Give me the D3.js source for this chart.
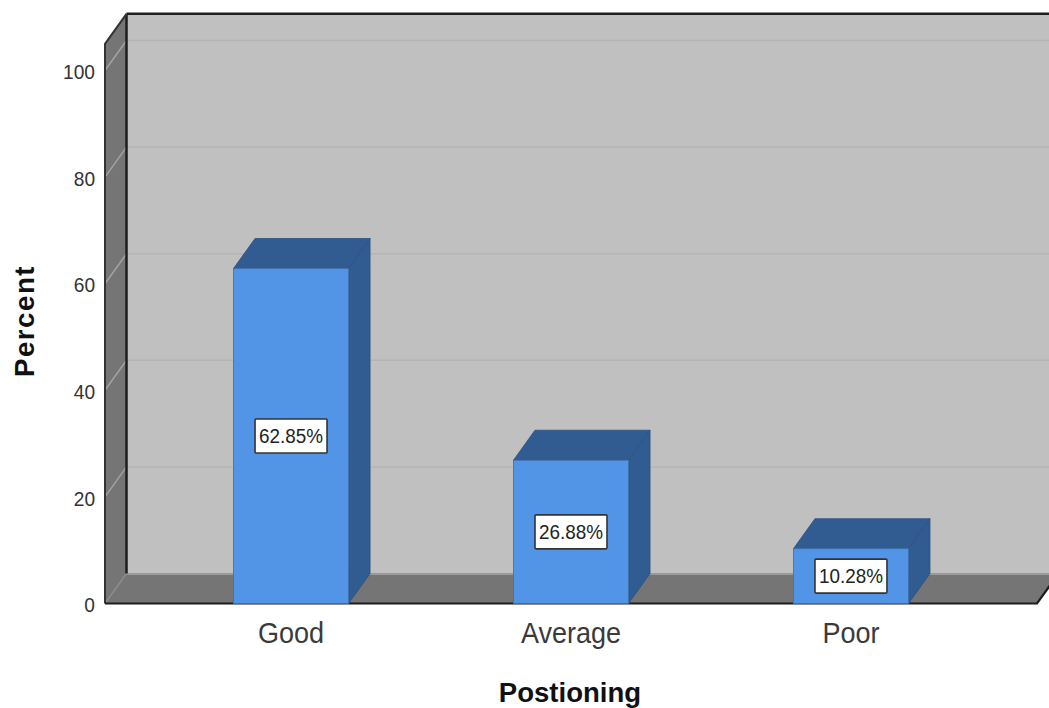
<!DOCTYPE html>
<html>
<head>
<meta charset="utf-8">
<script src="https://cdnjs.cloudflare.com/ajax/libs/d3/7.8.5/d3.min.js"></script>
<style>
html,body{margin:0;padding:0;background:#fff;overflow:hidden}
svg{display:block}
text{font-family:"Liberation Sans",Arial,sans-serif}
</style>
</head>
<body>
<svg id="chart" width="1049" height="708"></svg>
<script>
// Percent of respondents per positioning rating
const categories = ["Good", "Average", "Poor"];
const percents = [62.85, 26.88, 10.28];
const percentLabels = ["62.85%", "26.88%", "10.28%"];
const yTicks = [0, 20, 40, 60, 80, 100];
const yTop = 105;
const xTitle = "Postioning";
const yTitle = "Percent";

const W = 1049, H = 708;
const left = 105, right = 1037, base = 603.5, unit100 = 70.5;
const depthX = 21.5, depthY = -30;      // oblique offset of the 3D box

const x = d3.scaleBand().domain(categories).range([left, right]).paddingInner(0.589).paddingOuter(0.459);
const y = d3.scaleLinear().domain([0, 100]).range([base, unit100]);
const svg = d3.select("#chart");
const poly = pts => pts.map(p => p.join(",")).join(" ");

// Narrow a text horizontally while keeping its height
const condense = (sel, k) => sel.each(function () {
  this.setAttribute("textLength", this.getComputedTextLength() * k);
  this.setAttribute("lengthAdjust", "spacingAndGlyphs");
});

const topY = y(yTop);

// Back wall
svg.append("polygon").attr("fill", "#c0c0c0")
  .attr("points", poly([[left + depthX, topY + depthY], [W + 20, topY + depthY], [W + 20, base + depthY], [left + depthX, base + depthY]]));

// Left wall
svg.append("polygon").attr("fill", "#757575")
  .attr("points", poly([[left, topY], [left + depthX, topY + depthY], [left + depthX, base + depthY], [left, base]]));

// Floor
svg.append("polygon").attr("fill", "#757575")
  .attr("points", poly([[left, base], [left + depthX, base + depthY], [right + depthX, base + depthY], [right, base]]));

// Gridlines across the back wall and down the left wall
const grid = svg.append("g");
grid.selectAll("line.back").data(yTicks.slice(1)).join("line").attr("class", "back")
  .attr("x1", left + depthX).attr("x2", W)
  .attr("y1", d => y(d) + depthY).attr("y2", d => y(d) + depthY)
  .attr("stroke", "#b4b4b4").attr("stroke-width", 1.5);
grid.selectAll("line.side").data(yTicks).join("line").attr("class", "side")
  .attr("x1", left).attr("x2", left + depthX)
  .attr("y1", d => y(d)).attr("y2", d => y(d) + depthY)
  .attr("stroke", d => d === 0 ? "#8c8c8c" : "#a2a2a2").attr("stroke-width", 1.5);

// Highlight where the floor meets the back wall
svg.append("line").attr("x1", left + depthX).attr("x2", W)
  .attr("y1", base + depthY + 0.5).attr("y2", base + depthY + 0.5)
  .attr("stroke", "#9a9a9a").attr("stroke-width", 2);

// Wall and floor outlines
const edge = "#1e1e1e";
svg.append("line").attr("x1", left + depthX).attr("x2", left + depthX)
  .attr("y1", topY + depthY).attr("y2", base + depthY)
  .attr("stroke", edge).attr("stroke-width", 2.5);
svg.append("line").attr("x1", left + depthX).attr("x2", W)
  .attr("y1", topY + depthY).attr("y2", topY + depthY)
  .attr("stroke", edge).attr("stroke-width", 2.5);
svg.append("polyline").attr("fill", "none").attr("stroke", "#333").attr("stroke-width", 2)
  .attr("points", poly([[left, base], [left, topY], [left + depthX, topY + depthY]]));
svg.append("polyline").attr("fill", "none").attr("stroke", edge).attr("stroke-width", 2.2)
  .attr("points", poly([[left, base], [right, base], [right + depthX, base + depthY]]));

// Bars: front face plus darker top and side faces
const rows = categories.map((c, i) => ({c, v: percents[i], label: percentLabels[i]}));
const bars = svg.append("g").selectAll("g").data(rows).join("g");
const bw = x.bandwidth();
bars.append("polygon").attr("fill", "#315c92").attr("stroke", "#2c5282").attr("stroke-width", 0.8)
  .attr("points", d => {
    const a = x(d.c), t = y(d.v);
    return poly([[a, t], [a + bw, t], [a + bw + depthX, t + depthY], [a + depthX, t + depthY]]);
  });
bars.append("polygon").attr("fill", "#315c92").attr("stroke", "#2c5282").attr("stroke-width", 0.8)
  .attr("points", d => {
    const a = x(d.c) + bw, t = y(d.v);
    return poly([[a, t], [a + depthX, t + depthY], [a + depthX, base + depthY], [a, base]]);
  });
bars.append("rect").attr("fill", "#5294e6").attr("stroke", "#3f6ea8").attr("stroke-width", 0.8)
  .attr("x", d => x(d.c)).attr("y", d => y(d.v))
  .attr("width", bw).attr("height", d => base - y(d.v));

// Value labels in boxes at mid-height of each bar
const cx = d => x(d.c) + bw / 2;
const midY = d => y(d.v / 2);
bars.append("rect").attr("fill", "#fff").attr("stroke", "#333").attr("stroke-width", 1.6)
  .attr("x", d => cx(d) - 36).attr("y", d => midY(d) - 17)
  .attr("width", 72).attr("height", 34).attr("rx", 1);
bars.append("text").attr("x", cx).attr("y", midY).attr("dy", "0.34em")
  .attr("text-anchor", "middle").attr("font-size", 20.5).attr("fill", "#222")
  .text(d => d.label)
  .call(condense, 0.92);

// Value axis labels
const yAxis = d3.axisLeft(y).tickValues(yTicks).tickSize(0).tickPadding(10);
const yG = svg.append("g").attr("transform", `translate(${left},0)`).call(yAxis);
yG.select(".domain").remove();
yG.selectAll("text").attr("font-size", 21).attr("fill", "#333").attr("dy", "0.39em")
  .style("font-family", '"Liberation Sans",Arial,sans-serif')
  .call(condense, 0.91);

// Category axis labels
const xAxis = d3.axisBottom(x).tickSize(0).tickPadding(18);
const xG = svg.append("g").attr("transform", `translate(0,${base})`).call(xAxis);
xG.select(".domain").remove();
xG.selectAll("text").attr("font-size", 30).attr("fill", "#3a3a3a")
  .style("font-family", '"Liberation Sans",Arial,sans-serif')
  .call(condense, 0.9);

// Axis titles
svg.append("text").attr("x", 570).attr("y", 702).attr("text-anchor", "middle")
  .attr("font-size", 27).attr("font-weight", "bold").attr("fill", "#111").text(xTitle)
  .call(condense, 1.02);
svg.append("text").attr("transform", "translate(34,321) rotate(-90)").attr("text-anchor", "middle")
  .attr("font-size", 27.7).attr("font-weight", "bold").attr("fill", "#111")
  .attr("letter-spacing", 1.5).text(yTitle);
</script>
</body>
</html>
